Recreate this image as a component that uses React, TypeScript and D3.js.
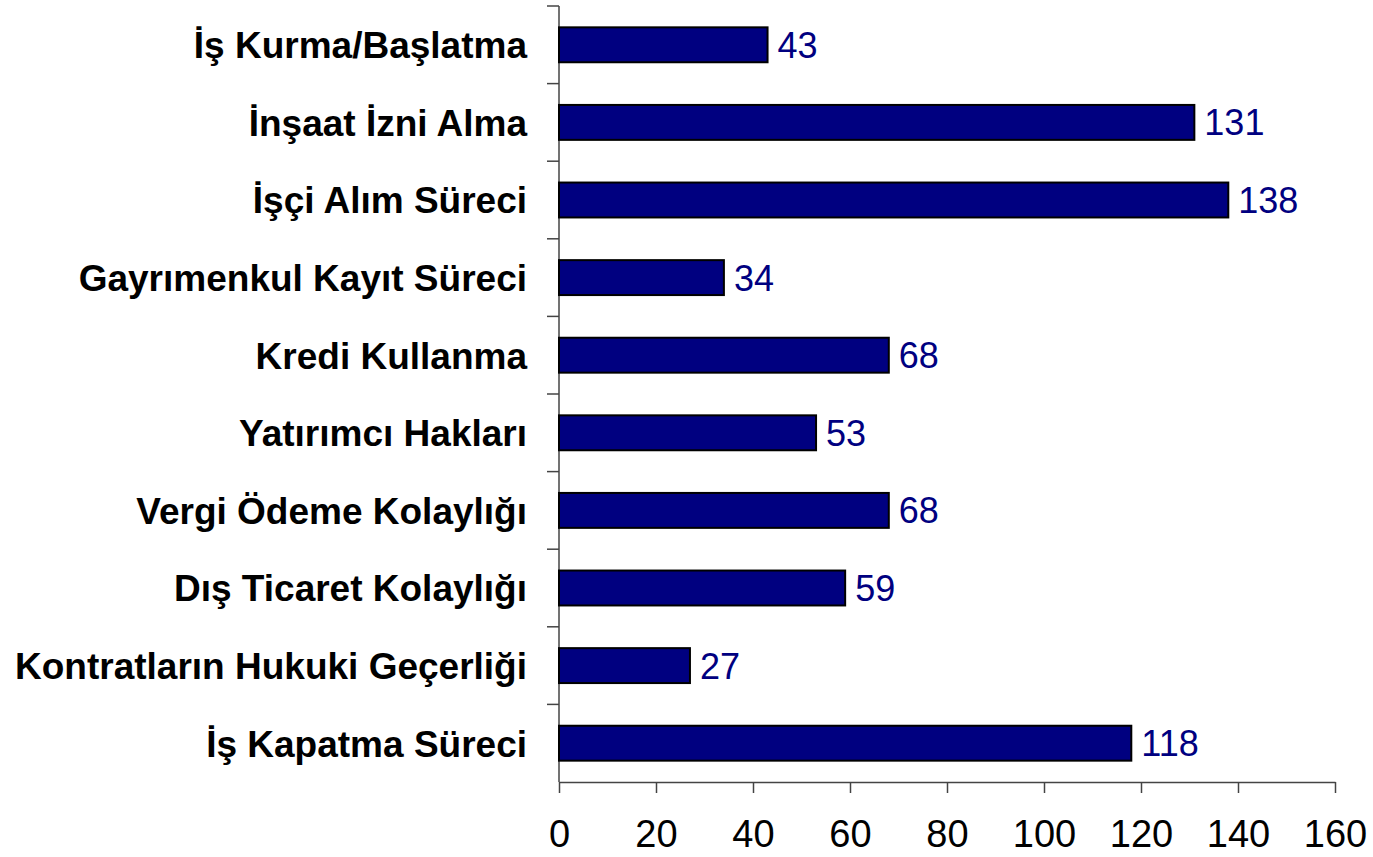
import React, { useEffect, useRef } from 'react';
import * as d3 from 'd3';

// categories, top to bottom
const categories = [
  'İş Kurma/Başlatma',
  'İnşaat İzni Alma',
  'İşçi Alım Süreci',
  'Gayrımenkul Kayıt Süreci',
  'Kredi Kullanma',
  'Yatırımcı Hakları',
  'Vergi Ödeme Kolaylığı',
  'Dış Ticaret Kolaylığı',
  'Kontratların Hukuki Geçerliği',
  'İş Kapatma Süreci',
];
const values = [43, 131, 138, 34, 68, 53, 68, 59, 27, 118];
const xTicks = [0, 20, 40, 60, 80, 100, 120, 140, 160];

const W = 1373;
const H = 857;
const M = { top: 6, right: 38, bottom: 75, left: 559 };
const FONT = '"Liberation Sans", Arial, sans-serif';

export default function App() {
  const ref = useRef<SVGSVGElement | null>(null);

  useEffect(() => {
    const svg = d3.select(ref.current);
    svg.selectAll('*').remove();

    const x = d3.scaleLinear().domain([0, 160]).range([M.left, W - M.right]);
    const y = d3
      .scaleBand<string>()
      .domain(categories)
      .range([M.top, H - M.bottom])
      .paddingInner(0.55)
      .paddingOuter(0.275);

    const step = y.step();
    const axisColor = '#444';

    // y axis line + ticks between categories
    svg.append('line')
      .attr('x1', M.left).attr('x2', M.left)
      .attr('y1', M.top).attr('y2', H - M.bottom)
      .attr('stroke', axisColor).attr('stroke-width', 1.5);
    d3.range(categories.length).forEach((i) => {
      const yy = M.top + i * step;
      svg.append('line')
        .attr('x1', M.left - 12).attr('x2', M.left)
        .attr('y1', yy).attr('y2', yy)
        .attr('stroke', axisColor).attr('stroke-width', 1.5);
    });

    // x axis
    const xAxis = svg.append('g')
      .attr('transform', `translate(0,${H - M.bottom})`)
      .call(d3.axisBottom(x).tickValues(xTicks).tickSize(11).tickSizeOuter(0));
    xAxis.select('.domain').attr('stroke', axisColor).attr('stroke-width', 1.5);
    xAxis.selectAll('.tick line').attr('stroke', axisColor).attr('stroke-width', 1.5);
    xAxis.selectAll('.tick text')
      .attr('y', 65)
      .attr('dy', '0')
      .attr('fill', '#000')
      .style('font-family', FONT)
      .style('font-size', '38px');

    // bars
    svg.append('g').selectAll('rect')
      .data(values)
      .join('rect')
      .attr('x', x(0))
      .attr('y', (_, i) => y(categories[i])!)
      .attr('width', (d) => x(d) - x(0))
      .attr('height', y.bandwidth())
      .attr('fill', '#000080')
      .attr('stroke', '#000')
      .attr('stroke-width', 2);

    // value labels
    svg.append('g').selectAll('text')
      .data(values)
      .join('text')
      .attr('x', (d) => x(d) + 10)
      .attr('y', (_, i) => y(categories[i])! + y.bandwidth() / 2)
      .attr('dy', '0.36em')
      .attr('fill', '#000080')
      .style('font-family', FONT)
      .style('font-size', '36px')
      .text((d) => d);

    // category labels
    svg.append('g').selectAll('text')
      .data(categories)
      .join('text')
      .attr('x', 527)
      .attr('y', (d) => y(d)! + y.bandwidth() / 2)
      .attr('dy', '0.36em')
      .attr('text-anchor', 'end')
      .attr('fill', '#000')
      .style('font-family', FONT)
      .style('font-weight', 'bold')
      .style('font-size', '37px')
      .text((d) => d);
  }, []);

  return (
    <svg
      ref={ref}
      width={W}
      height={H}
      style={{ position: 'absolute', left: 0, top: 0, background: '#fff' }}
    />
  );
}
